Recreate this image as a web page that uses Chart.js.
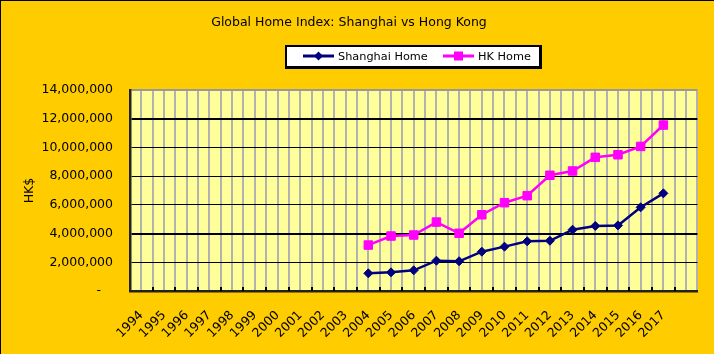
<!DOCTYPE html>
<html>
<head>
<meta charset="utf-8">
<script src="https://cdn.jsdelivr.net/npm/chart.js@4.4.1/dist/chart.umd.min.js"></script>
<style>
    html, body { margin: 0; padding: 0; background: #FFCC00; }
</style>
</head>
<body>
<canvas id="chart" width="714" height="354"></canvas>
<script>
// years on the axis, last slot is left empty like in the original
var years = ["1994", "1995", "1996", "1997", "1998", "1999", "2000", "2001", "2002", "2003",
    "2004", "2005", "2006", "2007", "2008", "2009", "2010", "2011", "2012", "2013",
    "2014", "2015", "2016", "2017", ""];

var shanghaiHome = [null, null, null, null, null, null, null, null, null, null,
    1230000, 1300000, 1440000, 2110000, 2070000, 2740000, 3090000, 3460000, 3500000, 4270000,
    4530000, 4570000, 5830000, 6800000, null];

var hkHome = [null, null, null, null, null, null, null, null, null, null,
    3200000, 3830000, 3900000, 4800000, 4020000, 5310000, 6150000, 6640000, 8060000, 8360000,
    9310000, 9490000, 10070000, 11560000, null];

var yTicks = [0, 2000000, 4000000, 6000000, 8000000, 10000000, 12000000, 14000000];

var fontName = '"DejaVu Sans", Verdana, sans-serif';

function drawMarker(ctx, style, x, y, r) {
    ctx.beginPath();
    if (style === 'rectRot') {
        ctx.moveTo(x, y - r);
        ctx.lineTo(x + r, y);
        ctx.lineTo(x, y + r);
        ctx.lineTo(x - r, y);
    } else {
        ctx.rect(x - r, y - r, 2 * r, 2 * r);
    }
    ctx.closePath();
    ctx.fill();
}

function drawLegend(chart) {
    var ctx = chart.ctx;
    var itemX = [303, 443];
    var markR = [4.5, 4.5];
    ctx.save();
    // box with a thin shadow on the right and bottom
    ctx.fillStyle = '#000';
    ctx.fillRect(285, 45, 257, 24);
    ctx.fillStyle = '#fff';
    ctx.fillRect(287, 47, 252, 19);

    chart.data.datasets.forEach(function (ds, i) {
        var x = itemX[i], y = 56;
        ctx.strokeStyle = ds.borderColor;
        ctx.lineWidth = 3;
        ctx.beginPath();
        ctx.moveTo(x, y);
        ctx.lineTo(x + 31, y);
        ctx.stroke();
        ctx.fillStyle = ds.borderColor;
        drawMarker(ctx, ds.pointStyle, x + 15.5, y, markR[i]);
        ctx.fillStyle = '#000';
        ctx.font = '11.3px ' + fontName;
        ctx.textBaseline = 'middle';
        ctx.fillText(ds.label, x + 35, y + 1);
    });
    ctx.restore();
}

var backdrop = {
    id: 'backdrop',
    beforeDraw: function (chart) {
        var ctx = chart.ctx, a = chart.chartArea, x = chart.scales.x;
        ctx.save();
        ctx.fillStyle = '#FFCC00';
        ctx.fillRect(0, 0, chart.width, chart.height);
        ctx.fillStyle = '#FFFF99';
        ctx.fillRect(a.left, a.top, a.right - a.left, a.bottom - a.top);
        // extra gray lines through the middle of each year
        ctx.strokeStyle = '#B2B2B2';
        ctx.lineWidth = 2;
        for (var i = 0; i < years.length; i++) {
            var px = Math.round(x.getPixelForValue(i));
            ctx.beginPath();
            ctx.moveTo(px, a.top);
            ctx.lineTo(px, a.bottom);
            ctx.stroke();
        }
        ctx.restore();
    },
    beforeDatasetsDraw: function (chart) {
        // small tick marks inside the plot at the year boundaries
        var ctx = chart.ctx, a = chart.chartArea, x = chart.scales.x;
        var half = (x.getPixelForValue(1) - x.getPixelForValue(0)) / 2;
        ctx.save();
        ctx.strokeStyle = '#000';
        ctx.lineWidth = 2;
        for (var i = 1; i < years.length; i++) {
            var px = Math.round(x.getPixelForValue(i) - half);
            ctx.beginPath();
            ctx.moveTo(px, a.bottom);
            ctx.lineTo(px, a.bottom - 4);
            ctx.stroke();
        }
        ctx.restore();
    },
    afterDraw: function (chart) {
        drawLegend(chart);
        var ctx = chart.ctx;
        ctx.save();
        ctx.fillStyle = '#000';
        ctx.fillRect(0, 0, chart.width, 1);
        ctx.fillRect(0, 0, 1, chart.height);
        ctx.restore();
    }
};

var chart = new Chart(document.getElementById('chart'), {
    type: 'line',
    data: {
        labels: years,
        datasets: [{
                label: 'Shanghai Home',
                data: shanghaiHome,
                borderColor: '#000080',
                backgroundColor: '#000080',
                borderWidth: 2.5,
                pointStyle: 'rectRot',
                pointRadius: 4.5,
                pointBorderWidth: 1,
                tension: 0
            }, {
                label: 'HK Home',
                data: hkHome,
                borderColor: '#FF00FF',
                backgroundColor: '#FF00FF',
                borderWidth: 2.5,
                pointStyle: 'rect',
                pointRadius: 6,
                pointBorderWidth: 1,
                tension: 0
            }]
    },
    options: {
        responsive: false,
        animation: false,
        layout: {padding: {left: 0, right: 16, top: 0, bottom: 0}},
        plugins: {
            legend: {display: false},
            tooltip: {enabled: false},
            title: {
                display: true,
                text: 'Global Home Index: Shanghai vs Hong Kong',
                color: '#000',
                font: {family: fontName, size: 12.5, weight: 'normal'},
                padding: {top: 15, bottom: 60}
            }
        },
        scales: {
            x: {
                offset: true,
                grid: {offset: true, color: '#B2B2B2', lineWidth: 2, drawTicks: false},
                border: {color: '#222', width: 2.5},
                ticks: {
                    color: '#000',
                    font: {family: fontName, size: 12.5},
                    minRotation: 45,
                    maxRotation: 45,
                    autoSkip: false,
                    padding: 17
                },
                afterFit: function (scale) { scale.height = 63; }
            },
            y: {
                min: 0,
                max: 14000000,
                afterBuildTicks: function (scale) {
                    scale.ticks = yTicks.map(function (v) { return {value: v}; });
                },
                grid: {
                    drawTicks: false,
                    color: function (c) { return c.tick && c.tick.value === 14000000 ? '#999' : '#000'; },
                    lineWidth: function (c) {
                        var v = c.tick ? c.tick.value : 0;
                        return (v === 4000000 || v === 12000000 || v === 14000000) ? 2 : 1;
                    }
                },
                border: {color: '#222', width: 2.5},
                ticks: {
                    color: '#000',
                    font: {family: fontName, size: 12.5},
                    padding: 17,
                    callback: function (value) {
                        return value === 0 ? '-   ' : value.toLocaleString('en-US');
                    }
                },
                title: {
                    display: true,
                    text: 'HK$',
                    color: '#000',
                    font: {family: fontName, size: 12.5},
                    padding: {top: 22, bottom: 0}
                },
                afterFit: function (scale) { scale.width = 130; }
            }
        }
    },
    plugins: [backdrop]
});
</script>
</body>
</html>
